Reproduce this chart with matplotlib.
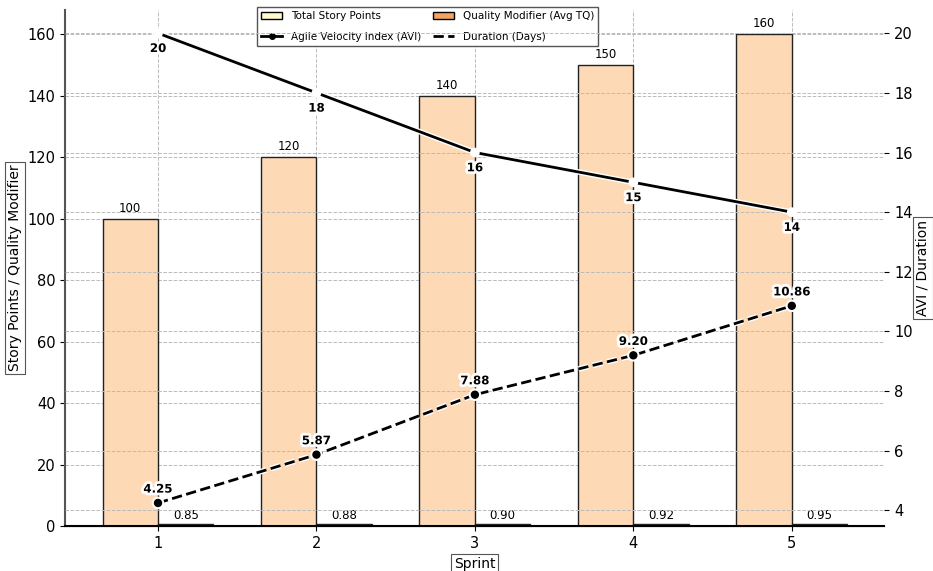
import matplotlib.pyplot as plt
import matplotlib.patheffects as pe
from matplotlib.lines import Line2D
from matplotlib.patches import Patch
import numpy as np

sprints = [1, 2, 3, 4, 5]
story_points = [100, 120, 140, 150, 160]
quality_mod = [0.85, 0.88, 0.90, 0.92, 0.95]
avi = [4.25, 5.87, 7.88, 9.20, 10.86]
duration = [20, 18, 16, 15, 14]

x = np.array(sprints)
w = 0.35
box = dict(boxstyle='square,pad=0.2', facecolor='white', edgecolor='#555555', linewidth=0.8)
glow = [pe.withStroke(linewidth=4, foreground='white')]

fig, ax = plt.subplots(figsize=(9.33, 5.71), dpi=100)
ax2 = ax.twinx()

b1 = ax.bar(x - w / 2, story_points, w, color='#fddab5', edgecolor='#222222', linewidth=1)
b2 = ax.bar(x + w / 2, quality_mod, w, color='#f4a460', edgecolor='#222222', linewidth=1)
for rect, v in zip(b1, story_points):
    ax.annotate(f'{v}', (rect.get_x() + rect.get_width() / 2, v), xytext=(0, 3),
                textcoords='offset points', ha='center', va='bottom', fontsize=8.5)
for rect, v in zip(b2, quality_mod):
    ax.annotate(f'{v:.2f}', (rect.get_x() + rect.get_width() / 2, v), xytext=(0, 1),
                textcoords='offset points', ha='center', va='bottom', fontsize=8.5)

ax2.plot(x, duration, '-', color='black', linewidth=2, marker='o', markersize=3,
         markerfacecolor='white', markeredgecolor='white', path_effects=glow)
ax2.plot(x, avi, '--', color='black', linewidth=2, marker='o', markersize=5, path_effects=glow)
for xi, v in zip(x, duration):
    ax2.annotate(f'{v}', (xi, v), xytext=(0, -11), textcoords='offset points',
                 ha='center', va='center', fontsize=8.5, fontweight='bold', path_effects=glow)
for xi, v in zip(x, avi):
    ax2.annotate(f'{v:.2f}', (xi, v), xytext=(0, 10), textcoords='offset points',
                 ha='center', va='center', fontsize=8.5, fontweight='bold', path_effects=glow)

ax.set_xticks(sprints)
ax.set_yticks(range(0, 161, 20))
ax2.set_yticks(range(4, 21, 2))
ax.grid(True, linestyle='--', color='#bbbbbb', linewidth=0.7)
ax2.grid(True, axis='y', linestyle='--', color='#bbbbbb', linewidth=0.7)
ax.set_axisbelow(True)
ax.set_zorder(ax2.get_zorder() - 1)
ax2.patch.set_visible(False)

for a in (ax, ax2):
    a.spines['top'].set_visible(False)
    a.spines['right'].set_visible(False)
    a.tick_params(labelsize=10.5)
ax2.spines['left'].set_visible(False)
ax.spines['left'].set_linewidth(1.5)
ax.spines['left'].set_color('#555555')
ax.spines['bottom'].set_linewidth(1.5)

ax.set_xlabel('Sprint', fontsize=10, bbox=box, labelpad=4)
ax.set_ylabel('Story Points / Quality Modifier', fontsize=10, bbox=box, labelpad=4)
ax2.set_ylabel('AVI / Duration', fontsize=10, bbox=box, labelpad=2)

handles = [Patch(facecolor='#fffacd', edgecolor='black'),
           Line2D([], [], color='black', linewidth=2, marker='o', markersize=4),
           Patch(facecolor='#f4a460', edgecolor='black'),
           Line2D([], [], color='black', linewidth=2, linestyle='--')]
labels = ['Total Story Points', 'Agile Velocity Index (AVI)',
          'Quality Modifier (Avg TQ)', 'Duration (Days)']
ax.legend(handles, labels, loc='upper left', bbox_to_anchor=(0.228, 1.015), ncol=2,
          fontsize=7.5, fancybox=False, edgecolor='#555555', framealpha=1,
          columnspacing=1.2, labelspacing=1.0, handlelength=2.0)

fig.subplots_adjust(left=0.07, right=0.948, top=0.983, bottom=0.078)
fig.savefig('out.png', dpi=100)
